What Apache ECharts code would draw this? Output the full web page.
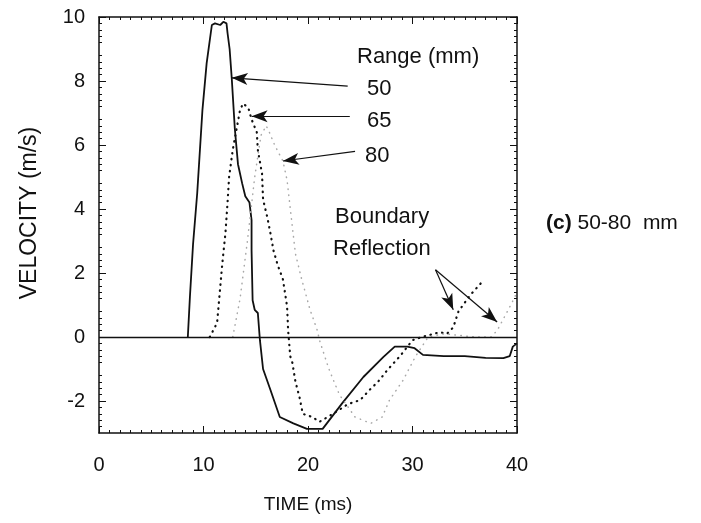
<!DOCTYPE html>
<html>
<head>
<meta charset="utf-8">
<script src="https://cdn.jsdelivr.net/npm/echarts@6/dist/echarts.min.js"></script>
<style>
  html, body { margin: 0; padding: 0; background: #fff; }
  #main { width: 701px; height: 523px; }
</style>
</head>
<body>
<div id="main"></div>
<script>
// time (ms) / velocity (m/s)
var t50 = [8.5, 8.7, 9.0, 9.4, 9.9, 10.3, 10.8, 11.1, 11.6, 11.9, 12.2, 12.3, 12.5, 12.7, 13.0, 13.3, 13.7, 14.0, 14.4, 14.6, 14.6, 14.7, 14.9, 15.2, 15.4, 15.7, 16.4, 17.3, 18.6, 19.9, 21.4, 23.3, 25.3, 27.2, 28.3, 29.5, 30.2, 31.0, 33.0, 35.0, 37.0, 38.7, 39.3, 39.6, 40.0];
var v50 = [0, 1.25, 2.9, 4.5, 7.1, 8.55, 9.75, 9.8, 9.75, 9.85, 9.8, 9.5, 9.0, 8.1, 6.5, 5.4, 4.8, 4.4, 4.2, 3.65, 2.7, 1.15, 0.85, 0.75, -0.1, -1.0, -1.65, -2.5, -2.7, -2.87, -2.87, -2.06, -1.25, -0.63, -0.3, -0.3, -0.35, -0.56, -0.6, -0.6, -0.65, -0.66, -0.6, -0.3, -0.2];

var t65 = [10.6, 11.3, 11.8, 12.1, 12.3, 12.45, 12.8, 13.5, 13.8, 14.3, 14.6, 15.1, 15.2, 15.6, 15.7, 16.1, 16.4, 16.7, 17.1, 17.6, 18.0, 18.1, 18.3, 18.5, 18.8, 19.2, 19.5, 20.4, 21.1, 22.4, 23.8, 25.0, 25.9, 26.7, 27.6, 28.8, 30.0, 30.9, 32.6, 33.3, 33.9, 34.4, 35.5, 36.6];
var v65 = [0, 0.44, 2.3, 3.25, 4.2, 5.0, 5.85, 7.1, 7.3, 7.15, 6.8, 6.4, 5.85, 5.1, 4.3, 3.75, 3.25, 2.7, 2.25, 1.8, 0.95, 0.2, -0.6, -0.8, -1.4, -1.9, -2.4, -2.5, -2.65, -2.4, -2.1, -1.97, -1.65, -1.4, -1.03, -0.6, -0.1, 0, 0.15, 0.1, 0.3, 0.8, 1.3, 1.7];

var t80 = [12.8, 13.5, 14.2, 14.9, 15.5, 16.0, 16.3, 16.8, 17.6, 18.0, 18.5, 18.8, 19.4, 20.2, 20.9, 21.1, 22.0, 23.0, 24.5, 26.0, 27.1, 27.8, 29.1, 30.3, 31.5, 33.0, 34.5, 36.0, 37.5, 38.1, 39.0, 39.5, 40.0];
var v80 = [0, 1.2, 3.0, 5.0, 6.3, 6.6, 6.4, 6.0, 5.5, 4.9, 3.45, 2.6, 1.8, 0.85, 0.2, -0.1, -1.0, -1.8, -2.5, -2.7, -2.5, -1.97, -1.35, -0.6, 0, 0.1, 0.05, 0, 0, 0.2, 0.75, 1.06, 1.4];

var xTicks = [0, 10, 20, 30, 40];
var yTicks = [-2, 0, 2, 4, 6, 8, 10];

// arrows: [from, to] in data coords
var arrows = [
  [[23.8, 7.84], [12.7, 8.1]],
  [[24.0, 6.9], [14.6, 6.9]],
  [[24.5, 5.8], [17.6, 5.5]],
  [[32.2, 2.1], [33.9, 0.85]],
  [[32.2, 2.1], [38.1, 0.47]]
];

function pairs(xs, ys) {
  return xs.map(function (x, i) { return [x, ys[i]]; });
}

var font = '"Liberation Sans", Arial, sans-serif';

function xAxisCfg(pos) {
  return {
    type: 'value', position: pos, min: xTicks[0], max: xTicks[xTicks.length - 1], interval: 10,
    axisLine: { show: true, onZero: false, lineStyle: { color: '#111', width: 1.5 } },
    axisTick: { show: true, inside: true, length: 7, lineStyle: { color: '#111' } },
    minorTick: { show: true, splitNumber: 10, length: 3, lineStyle: { color: '#111' } },
    axisLabel: { show: pos === 'bottom', fontSize: 20, margin: 22, color: '#111', fontFamily: font },
    splitLine: { show: false }
  };
}
function yAxisCfg(pos) {
  return {
    type: 'value', position: pos, min: -3, max: 10, interval: 1,
    axisLine: { show: true, onZero: false, lineStyle: { color: '#111', width: 1.5 } },
    axisTick: { show: true, inside: true, length: 7, customValues: yTicks, lineStyle: { color: '#111' } },
    minorTick: { show: true, splitNumber: 5, length: 3, lineStyle: { color: '#111' } },
    axisLabel: { show: pos === 'left', customValues: yTicks, fontSize: 20, margin: 14, color: '#111', fontFamily: font },
    splitLine: { show: false }
  };
}

var xb = xAxisCfg('bottom');
xb.name = 'TIME (ms)';
xb.nameLocation = 'middle';
xb.nameGap = 62;
xb.nameTextStyle = { fontSize: 19, color: '#111', fontFamily: font };
var xt = xAxisCfg('top');
var yl = yAxisCfg('left');
yl.name = 'VELOCITY (m/s)';
yl.nameLocation = 'middle';
yl.nameGap = 58;
yl.nameTextStyle = { fontSize: 23, color: '#111', fontFamily: font, padding: [0, 0, 0, 24] };
var yr = yAxisCfg('right');

var option = {
  animation: false,
  backgroundColor: '#fff',
  grid: { left: 99, right: 184, top: 17, bottom: 90 },
  xAxis: [xb, xt],
  yAxis: [yl, yr],
  series: [
    {
      name: '50', type: 'line', data: pairs(t50, v50), showSymbol: false,
      lineStyle: { color: '#111', width: 1.8 },
      markLine: {
        silent: true, symbol: ['none', 'arrow'], symbolSize: [9, 16],
        label: { show: false },
        lineStyle: { color: '#111', width: 1.2, type: 'solid' },
        data: arrows.map(function (a) { return [{ coord: a[0] }, { coord: a[1] }]; })
      }
    },
    {
      name: '65', type: 'line', data: pairs(t65, v65), showSymbol: false,
      lineStyle: { color: '#111', width: 2.2, type: [0.5, 5.5], cap: 'round' },
      markLine: {
        silent: true, symbol: 'none', label: { show: false },
        lineStyle: { color: '#111', width: 1.3, type: 'solid' },
        data: [{ yAxis: 0 }]
      }
    },
    {
      name: '80', type: 'line', data: pairs(t80, v80), showSymbol: false,
      lineStyle: { color: '#a8a8a8', width: 1.5, type: [0.5, 5.5], cap: 'round' }
    }
  ],
  graphic: [
    { type: 'text', left: 357, top: 46, style: { text: 'Range (mm)', font: '22px ' + font, fill: '#111' } },
    { type: 'text', left: 367, top: 78, style: { text: '50', font: '22px ' + font, fill: '#111' } },
    { type: 'text', left: 367, top: 110, style: { text: '65', font: '22px ' + font, fill: '#111' } },
    { type: 'text', left: 365, top: 145, style: { text: '80', font: '22px ' + font, fill: '#111' } },
    { type: 'text', left: 335, top: 206, style: { text: 'Boundary', font: '22px ' + font, fill: '#111' } },
    { type: 'text', left: 333, top: 238, style: { text: 'Reflection', font: '22px ' + font, fill: '#111' } },
    {
      type: 'text', left: 546, top: 213,
      style: {
        text: '{b|(c)} 50-80  mm', font: '21px ' + font, fill: '#111',
        rich: { b: { fontWeight: 'bold', fontSize: 21, fontFamily: font } }
      }
    }
  ]
};

var chart = echarts.init(document.getElementById('main'));
chart.setOption(option);
</script>
</body>
</html>
